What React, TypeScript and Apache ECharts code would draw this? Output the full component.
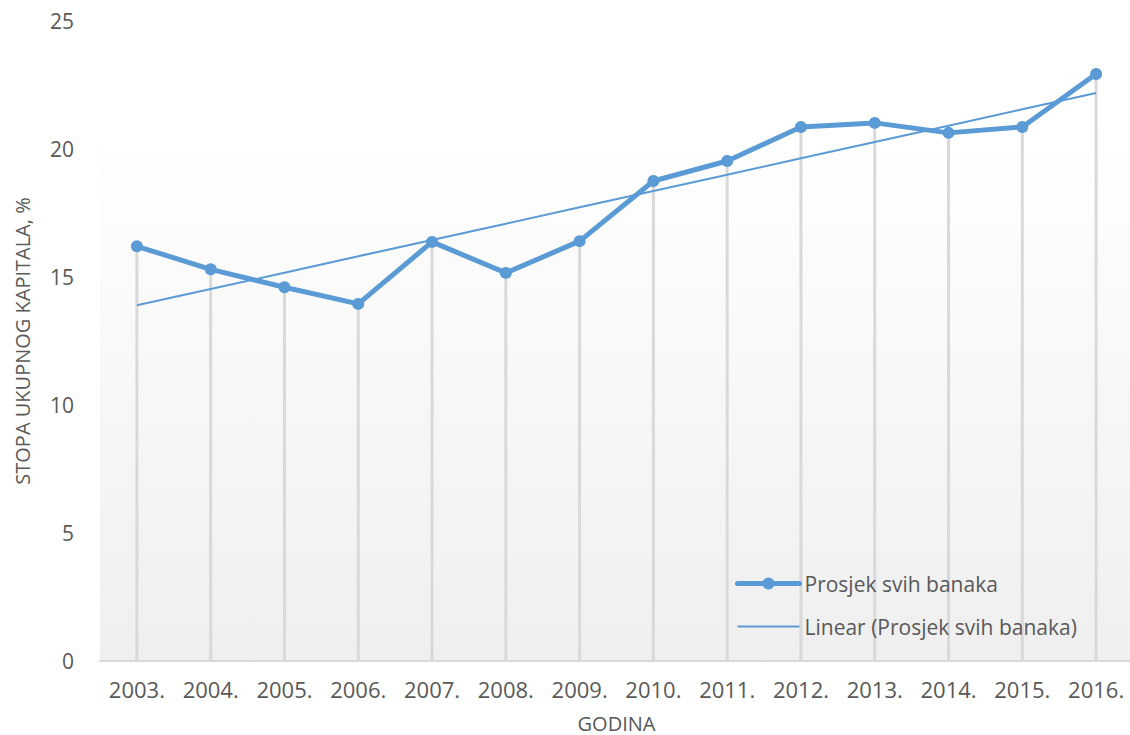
import React, { useEffect, useRef } from "react";
import * as echarts from "echarts";

const years = ["2003.", "2004.", "2005.", "2006.", "2007.", "2008.", "2009.", "2010.", "2011.", "2012.", "2013.", "2014.", "2015.", "2016."];
const values = [16.2, 15.3, 14.6, 13.95, 16.37, 15.16, 16.4, 18.75, 19.53, 20.86, 21.02, 20.63, 20.86, 22.93];
const seriesName = "Prosjek svih banaka";
const trendName = "Linear (Prosjek svih banaka)";
const yAxisTitle = "STOPA UKUPNOG KAPITALA, %";
const xAxisTitle = "GODINA";

function linearTrend(v: number[]): number[] {
  const n = v.length;
  const mx = (n - 1) / 2;
  const my = v.reduce((a, b) => a + b, 0) / n;
  let sxy = 0;
  let sxx = 0;
  v.forEach((y, i) => {
    sxy += (i - mx) * (y - my);
    sxx += (i - mx) * (i - mx);
  });
  const slope = sxy / sxx;
  return v.map((_, i) => +(my + slope * (i - mx)).toFixed(3));
}

export default function App() {
  const ref = useRef<HTMLDivElement>(null);
  useEffect(() => {
    if (!ref.current) return;
    const chart = echarts.init(ref.current, undefined, { renderer: "svg" });
    const font = "'Open Sans', 'Noto Sans', sans-serif";
    const textColor = "#595959";
    const blue = "#5b9bd5";
    chart.setOption({
      animation: false,
      backgroundColor: "#ffffff",
      grid: {
        left: 100,
        top: 21,
        width: 1033,
        height: 640,
        outerBoundsMode: "none",
        containLabel: false,
        show: true,
        borderWidth: 0,
        backgroundColor: {
          type: "linear",
          x: 0,
          y: 0,
          x2: 0,
          y2: 1,
          colorStops: [
            { offset: 0, color: "#ffffff" },
            { offset: 0.17, color: "#ffffff" },
            { offset: 1, color: "#efefef" },
          ],
        },
      },
      legend: {
        orient: "vertical",
        left: 730,
        top: 568,
        padding: 5,
        data: [
          { name: seriesName, lineStyle: { width: 5, cap: "round" } },
          { name: trendName, lineStyle: { width: 2 }, itemStyle: { opacity: 0 } },
        ],
        itemWidth: 62,
        itemHeight: 15,
        itemGap: 22,
        textStyle: { fontFamily: font, fontSize: 21, color: textColor },
      },
      xAxis: {
        type: "category",
        data: years,
        boundaryGap: true,
        name: xAxisTitle,
        nameLocation: "middle",
        nameGap: 52,
        nameTextStyle: { fontFamily: font, fontSize: 20, color: textColor },
        axisLine: { show: true, lineStyle: { color: "#d9d9d9", width: 2 } },
        axisTick: { show: false },
        axisLabel: { interval: 0, fontFamily: font, fontSize: 22, color: textColor, margin: 17 },
        splitLine: { show: false },
      },
      yAxis: {
        type: "value",
        min: 0,
        max: 25,
        interval: 5,
        name: yAxisTitle,
        nameLocation: "middle",
        nameGap: 68,
        nameTextStyle: { fontFamily: font, fontSize: 20, color: textColor },
        axisLine: { show: false },
        axisTick: { show: false },
        axisLabel: { fontFamily: font, fontSize: 21, color: textColor, margin: 26 },
        splitLine: { show: false },
      },
      series: [
        {
          name: "drop",
          type: "bar",
          data: values,
          barWidth: 3,
          itemStyle: { color: "#d9d9d9" },
          z: 1,
          silent: true,
        },
        {
          name: trendName,
          type: "line",
          data: linearTrend(values),
          showSymbol: false,
          symbol: "none",
          lineStyle: { color: blue, width: 2 },
          itemStyle: { color: blue },
          z: 3,
        },
        {
          name: seriesName,
          type: "line",
          data: values,
          symbol: "circle",
          symbolSize: 12,
          lineStyle: { color: blue, width: 5 },
          itemStyle: { color: blue },
          z: 4,
        },
      ],
    });
    return () => chart.dispose();
  }, []);
  return <div ref={ref} style={{ position: "absolute", left: 0, top: 0, width: 1130, height: 735 }} />;
}
